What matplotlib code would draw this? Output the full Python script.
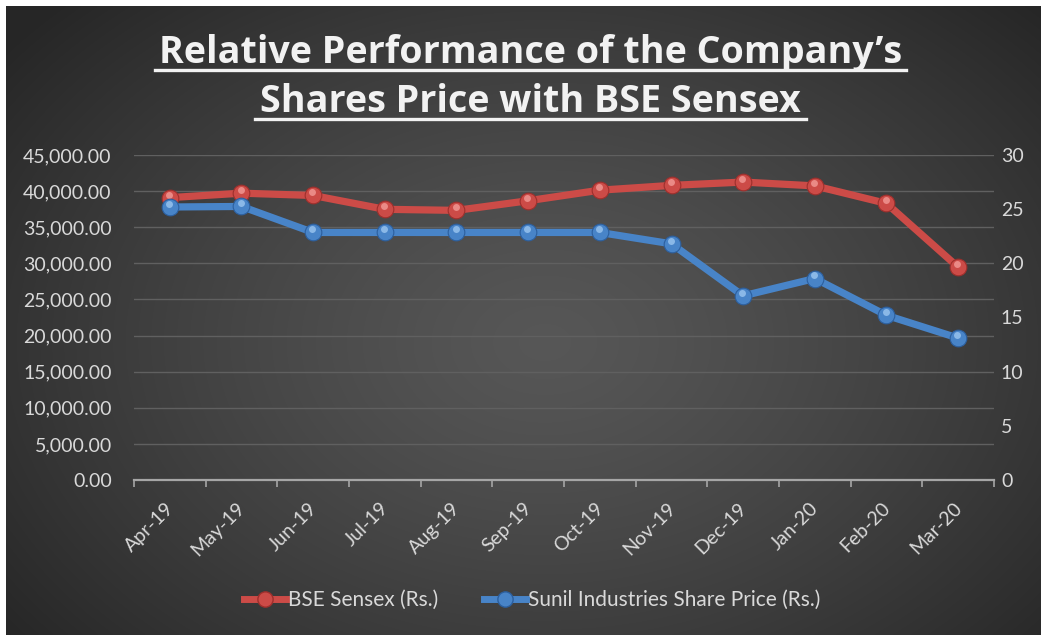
import numpy as np
import matplotlib
matplotlib.use("Agg")
import matplotlib.pyplot as plt
import matplotlib.transforms as mtransforms
from matplotlib.ticker import FuncFormatter, MultipleLocator
from matplotlib.lines import Line2D

months = ["Apr-19", "May-19", "Jun-19", "Jul-19", "Aug-19", "Sep-19",
          "Oct-19", "Nov-19", "Dec-19", "Jan-20", "Feb-20", "Mar-20"]
sensex = [39100, 39714, 39395, 37481, 37333, 38667,
          40129, 40794, 41254, 40723, 38297, 29468]
sunil = [25.2, 25.25, 22.85, 22.85, 22.85, 22.85,
         22.85, 21.8, 17.0, 18.6, 15.2, 13.1]

title_1 = "Relative Performance of the Company\u2019s"
title_2 = "Shares Price with BSE Sensex"
label_sensex = "BSE Sensex (Rs.)"
label_sunil = "Sunil Industries Share Price (Rs.)"

RED = "#cc4b47"
BLUE = "#4884c8"
TXT = "#d9d9d9"
FONT = "Lato"
TFONT = "Open Sans"

W, H = 1041, 635
fig = plt.figure(figsize=(W / 100, H / 100), dpi=100)
fig.patch.set_facecolor("white")

# background radial gradient
bg = fig.add_axes([6 / W, 0, 1 - 6 / W, 1 - 6 / H])
bg.set_axis_off()
yy, xx = np.mgrid[0:300, 0:500]
cx, cy = 260, 160
r = np.sqrt(((xx - cx) / 330.0) ** 2 + ((yy - cy) / 230.0) ** 2)
r = np.clip(r, 0, 1)
val = 0.34 - 0.19 * r ** 1.3
img = np.dstack([val, val, val])
bg.imshow(img, aspect="auto", extent=[0, 1, 0, 1], interpolation="bilinear")
bg.set_xlim(0, 1)
bg.set_ylim(0, 1)
bg.set_zorder(-10)

# main axes
left, right = 134, 994
top, bottom = 155, 480
ax = fig.add_axes([left / W, 1 - bottom / H, (right - left) / W, (bottom - top) / H])
ax.set_facecolor("none")
ax2 = ax.twinx()
ax2.set_facecolor("none")

x = np.arange(len(months))
ax.set_xlim(-0.5, len(months) - 0.5)
ax.set_ylim(0, 45000)
ax2.set_ylim(0, 30)
ax.yaxis.set_major_locator(MultipleLocator(5000))
ax2.yaxis.set_major_locator(MultipleLocator(5))
ax.yaxis.set_major_formatter(FuncFormatter(lambda v, p: f"{v:,.2f}"))
ax2.yaxis.set_major_formatter(FuncFormatter(lambda v, p: f"{v:g}"))

for a in (ax, ax2):
    for s in a.spines.values():
        s.set_visible(False)
ax.spines["bottom"].set_visible(True)
ax.spines["bottom"].set_color("#a6a6a6")
ax.spines["bottom"].set_linewidth(1.6)

ax.grid(axis="y", color="#606060", linewidth=1.0)
ax.set_axisbelow(True)
ax.tick_params(axis="y", length=0, pad=16, labelsize=14, labelcolor=TXT)
ax2.tick_params(axis="y", length=0, pad=5, labelsize=14, labelcolor=TXT)

ax.set_xticks(np.arange(len(months) + 1) - 0.5, minor=False)
ax.set_xticklabels([])
ax.tick_params(axis="x", which="major", length=5, color="#a6a6a6", width=1.2)
ax.set_xticks(x, minor=True)
ax.set_xticklabels(months, minor=True, rotation=45, ha="right", va="top",
                   rotation_mode="anchor")
ax.tick_params(axis="x", which="minor", length=0, pad=14, labelsize=14,
               labelcolor=TXT)
shift = mtransforms.ScaledTranslation(-5 / 100, 0, fig.dpi_scale_trans)
for t in ax.get_xticklabels(minor=True):
    t.set_transform(t.get_transform() + shift)

for t in ax.get_yticklabels() + ax2.get_yticklabels() + ax.get_xticklabels(minor=True):
    t.set_fontfamily(FONT)

# lines (Sensex on left axis, Sunil on right axis)
def draw(a, vals, col, edge, hi):
    a.plot(x, vals, color=col, linewidth=5.2, solid_capstyle="round", zorder=3)
    a.plot(x, vals, linestyle="none", marker="o", markersize=12,
           markerfacecolor=col, markeredgecolor=edge, markeredgewidth=0.8, zorder=4)
    off = mtransforms.offset_copy(a.transData, fig=fig, x=-0.5, y=2.2, units="points")
    a.plot(x, vals, linestyle="none", marker="o", markersize=5,
           markerfacecolor=hi, markeredgewidth=0, alpha=0.8, zorder=5, transform=off)

draw(ax, sensex, RED, "#9e2f2c", "#f29a96")
draw(ax2, sunil, BLUE, "#2c5f9e", "#9cc6f0")

# title with underline (font size fitted so line 1 spans the underline)
t1 = fig.text(530.5 / W, 1 - 63 / H, title_1, ha="center", va="baseline",
              fontsize=24, fontweight="bold", color="#f2f2f2", fontfamily=TFONT)
t2 = fig.text(530.5 / W, 1 - 112 / H, title_2, ha="center", va="baseline",
              fontsize=24, fontweight="bold", color="#f2f2f2", fontfamily=TFONT)
fig.canvas.draw()
w1 = t1.get_window_extent().width
fs = 24 * 744.0 / w1
t1.set_fontsize(fs)
t2.set_fontsize(fs)
fig.add_artist(Line2D([155 / W, 906 / W], [1 - 70 / H, 1 - 70 / H],
                      color="#f2f2f2", linewidth=2.4))
fig.add_artist(Line2D([255 / W, 806 / W], [1 - 118.5 / H, 1 - 118.5 / H],
                      color="#f2f2f2", linewidth=2.4))

# legend
h1 = Line2D([], [], color=RED, linewidth=5, marker="o", markersize=11,
            markerfacecolor=RED, markeredgecolor="#9e2f2c")
h2 = Line2D([], [], color=BLUE, linewidth=5, marker="o", markersize=11,
            markerfacecolor=BLUE, markeredgecolor="#2c5f9e")
leg = fig.legend([h1, h2], [label_sensex, label_sunil], loc="center",
                 bbox_to_anchor=(532 / W, 1 - 600 / H), ncol=2, frameon=False,
                 handlelength=2.0, handletextpad=0.1, columnspacing=2.2,
                 prop={"family": FONT, "size": 15})
for t in leg.get_texts():
    t.set_color(TXT)

fig.savefig("out.png", dpi=100, facecolor=fig.get_facecolor())
